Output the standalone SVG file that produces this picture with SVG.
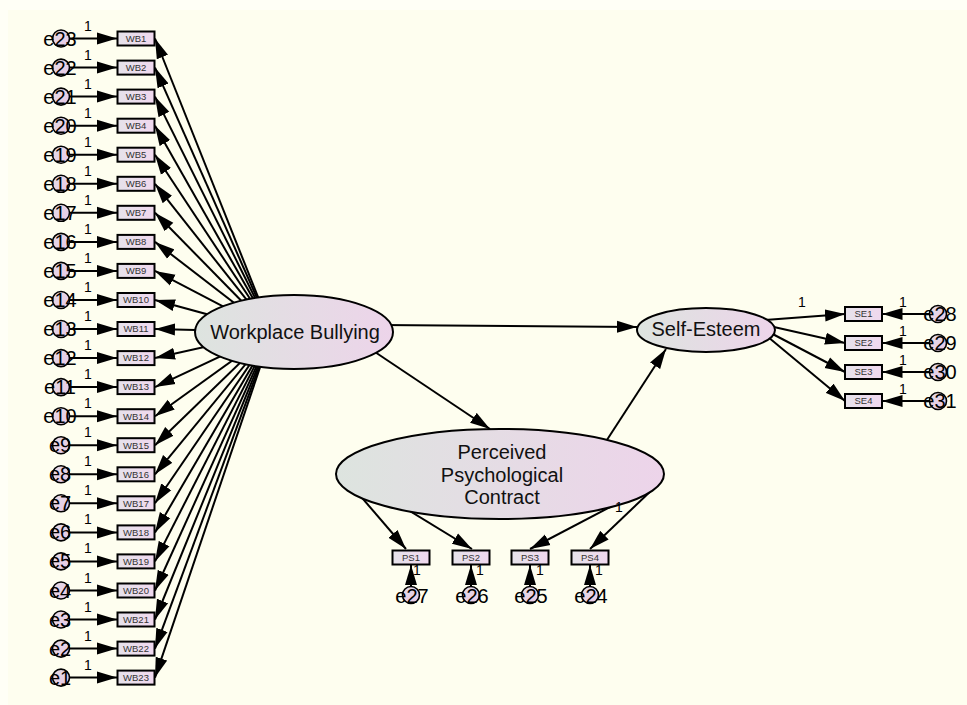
<svg xmlns="http://www.w3.org/2000/svg" width="967" height="705" viewBox="0 0 967 705">
<style>
.ln{stroke:#000;stroke-width:2;fill:none}
.bx{fill:url(#gb);stroke:#000;stroke-width:2}
.ci{fill:url(#gc);stroke:#000;stroke-width:1.6}
.el{fill:url(#ge);stroke:#000;stroke-width:2}
.bt{font-family:"Liberation Sans",Arial,sans-serif;font-size:9.5px;fill:#333;text-anchor:middle}
.et{font-family:"Liberation Sans",Arial,sans-serif;font-size:20px;fill:#000;text-anchor:middle}
.lt{font-family:"Liberation Sans",Arial,sans-serif;font-size:20px;fill:#111;text-anchor:middle}
.one{font-family:"Liberation Sans",Arial,sans-serif;font-size:14px;fill:#000;text-anchor:middle}
</style>
<defs>
<linearGradient id="ge" x1="0" y1="0" x2="1" y2="0"><stop offset="0" stop-color="#DDE4DF"/><stop offset="1" stop-color="#EDD4EA"/></linearGradient>
<linearGradient id="gb" x1="0" y1="0" x2="1" y2="0"><stop offset="0" stop-color="#E6E2EA"/><stop offset="1" stop-color="#F0D8EE"/></linearGradient>
<linearGradient id="gc" x1="0" y1="0" x2="1" y2="1"><stop offset="0" stop-color="#E4DCE6"/><stop offset="1" stop-color="#E8C8E6"/></linearGradient>
<marker id="ah" markerUnits="userSpaceOnUse" markerWidth="20" markerHeight="13" refX="20" refY="6.5" orient="auto"><path d="M0,0.5 L20,6.5 L0,12.5 z" fill="#000"/></marker>
</defs>
<rect x="0" y="0" width="967" height="705" fill="#FFFFF6"/>
<rect x="8" y="10" width="959" height="695" fill="#FEFEEF"/>
<g id="connectors" class="ln">
<line x1="272" y1="332" x2="155" y2="38.5" marker-end="url(#ah)"/>
<line x1="272" y1="332" x2="155" y2="67.6" marker-end="url(#ah)"/>
<line x1="272" y1="332" x2="155" y2="96.6" marker-end="url(#ah)"/>
<line x1="272" y1="332" x2="155" y2="125.7" marker-end="url(#ah)"/>
<line x1="272" y1="332" x2="155" y2="154.7" marker-end="url(#ah)"/>
<line x1="272" y1="332" x2="155" y2="183.8" marker-end="url(#ah)"/>
<line x1="272" y1="332" x2="155" y2="212.8" marker-end="url(#ah)"/>
<line x1="272" y1="332" x2="155" y2="241.9" marker-end="url(#ah)"/>
<line x1="272" y1="332" x2="155" y2="270.9" marker-end="url(#ah)"/>
<line x1="272" y1="332" x2="155" y2="300" marker-end="url(#ah)"/>
<line x1="272" y1="332" x2="155" y2="329" marker-end="url(#ah)"/>
<line x1="272" y1="332" x2="155" y2="358.1" marker-end="url(#ah)"/>
<line x1="272" y1="332" x2="155" y2="387.1" marker-end="url(#ah)"/>
<line x1="272" y1="332" x2="155" y2="416.2" marker-end="url(#ah)"/>
<line x1="272" y1="332" x2="155" y2="445.2" marker-end="url(#ah)"/>
<line x1="272" y1="332" x2="155" y2="474.3" marker-end="url(#ah)"/>
<line x1="272" y1="332" x2="155" y2="503.3" marker-end="url(#ah)"/>
<line x1="272" y1="332" x2="155" y2="532.4" marker-end="url(#ah)"/>
<line x1="272" y1="332" x2="155" y2="561.4" marker-end="url(#ah)"/>
<line x1="272" y1="332" x2="155" y2="590.5" marker-end="url(#ah)"/>
<line x1="272" y1="332" x2="155" y2="619.5" marker-end="url(#ah)"/>
<line x1="272" y1="332" x2="155" y2="648.6" marker-end="url(#ah)"/>
<line x1="272" y1="332" x2="155" y2="677.6" marker-end="url(#ah)"/>
<line x1="69" y1="38.5" x2="117" y2="38.5" marker-end="url(#ah)"/>
<line x1="69" y1="67.6" x2="117" y2="67.6" marker-end="url(#ah)"/>
<line x1="69" y1="96.6" x2="117" y2="96.6" marker-end="url(#ah)"/>
<line x1="69" y1="125.7" x2="117" y2="125.7" marker-end="url(#ah)"/>
<line x1="69" y1="154.7" x2="117" y2="154.7" marker-end="url(#ah)"/>
<line x1="69" y1="183.8" x2="117" y2="183.8" marker-end="url(#ah)"/>
<line x1="69" y1="212.8" x2="117" y2="212.8" marker-end="url(#ah)"/>
<line x1="69" y1="241.9" x2="117" y2="241.9" marker-end="url(#ah)"/>
<line x1="69" y1="270.9" x2="117" y2="270.9" marker-end="url(#ah)"/>
<line x1="69" y1="300" x2="117" y2="300" marker-end="url(#ah)"/>
<line x1="69" y1="329" x2="117" y2="329" marker-end="url(#ah)"/>
<line x1="69" y1="358.1" x2="117" y2="358.1" marker-end="url(#ah)"/>
<line x1="69" y1="387.1" x2="117" y2="387.1" marker-end="url(#ah)"/>
<line x1="69" y1="416.2" x2="117" y2="416.2" marker-end="url(#ah)"/>
<line x1="69" y1="445.2" x2="117" y2="445.2" marker-end="url(#ah)"/>
<line x1="69" y1="474.3" x2="117" y2="474.3" marker-end="url(#ah)"/>
<line x1="69" y1="503.3" x2="117" y2="503.3" marker-end="url(#ah)"/>
<line x1="69" y1="532.4" x2="117" y2="532.4" marker-end="url(#ah)"/>
<line x1="69" y1="561.4" x2="117" y2="561.4" marker-end="url(#ah)"/>
<line x1="69" y1="590.5" x2="117" y2="590.5" marker-end="url(#ah)"/>
<line x1="69" y1="619.5" x2="117" y2="619.5" marker-end="url(#ah)"/>
<line x1="69" y1="648.6" x2="117" y2="648.6" marker-end="url(#ah)"/>
<line x1="69" y1="677.6" x2="117" y2="677.6" marker-end="url(#ah)"/>
<line x1="380" y1="325" x2="637" y2="327" marker-end="url(#ah)"/>
<line x1="360" y1="342" x2="490" y2="429" marker-end="url(#ah)"/>
<line x1="603" y1="446" x2="666" y2="349" marker-end="url(#ah)"/>
<line x1="765" y1="320" x2="845" y2="314" marker-end="url(#ah)"/>
<line x1="765" y1="325" x2="845" y2="343" marker-end="url(#ah)"/>
<line x1="765" y1="330" x2="845" y2="372" marker-end="url(#ah)"/>
<line x1="762" y1="332" x2="845" y2="401" marker-end="url(#ah)"/>
<line x1="930" y1="314" x2="882.5" y2="314" marker-end="url(#ah)"/>
<line x1="930" y1="343" x2="882.5" y2="343" marker-end="url(#ah)"/>
<line x1="930" y1="372" x2="882.5" y2="372" marker-end="url(#ah)"/>
<line x1="930" y1="401" x2="882.5" y2="401" marker-end="url(#ah)"/>
<line x1="345" y1="478" x2="406" y2="549" marker-end="url(#ah)"/>
<line x1="400" y1="505" x2="472" y2="549" marker-end="url(#ah)"/>
<line x1="612" y1="506" x2="530" y2="549" marker-end="url(#ah)"/>
<line x1="655" y1="487" x2="590" y2="549" marker-end="url(#ah)"/>
<line x1="411" y1="590" x2="411" y2="565" marker-end="url(#ah)"/>
<line x1="471" y1="590" x2="471" y2="565" marker-end="url(#ah)"/>
<line x1="530" y1="590" x2="530" y2="565" marker-end="url(#ah)"/>
<line x1="590" y1="590" x2="590" y2="565" marker-end="url(#ah)"/>
</g>
<g id="WB"><ellipse class="el" cx="294" cy="332" rx="99" ry="37"/><text class="lt" x="295" y="339">Workplace Bullying</text></g>
<g id="SE"><ellipse class="el" cx="706" cy="330" rx="69" ry="22"/><text class="lt" x="706" y="336">Self-Esteem</text></g>
<g id="PPC"><ellipse class="el" cx="500" cy="474" rx="164" ry="45"/><text class="lt" x="502" y="459">Perceived</text><text class="lt" x="502" y="482">Psychological</text><text class="lt" x="502" y="504">Contract</text></g>
<g id="WB1"><rect class="bx" x="117.5" y="31.5" width="37" height="14"/><text class="bt" x="136" y="41.8">WB1</text></g>
<g id="WB2"><rect class="bx" x="117.5" y="60.6" width="37" height="14"/><text class="bt" x="136" y="70.9">WB2</text></g>
<g id="WB3"><rect class="bx" x="117.5" y="89.6" width="37" height="14"/><text class="bt" x="136" y="99.9">WB3</text></g>
<g id="WB4"><rect class="bx" x="117.5" y="118.7" width="37" height="14"/><text class="bt" x="136" y="129">WB4</text></g>
<g id="WB5"><rect class="bx" x="117.5" y="147.7" width="37" height="14"/><text class="bt" x="136" y="158">WB5</text></g>
<g id="WB6"><rect class="bx" x="117.5" y="176.8" width="37" height="14"/><text class="bt" x="136" y="187.1">WB6</text></g>
<g id="WB7"><rect class="bx" x="117.5" y="205.8" width="37" height="14"/><text class="bt" x="136" y="216.1">WB7</text></g>
<g id="WB8"><rect class="bx" x="117.5" y="234.9" width="37" height="14"/><text class="bt" x="136" y="245.2">WB8</text></g>
<g id="WB9"><rect class="bx" x="117.5" y="263.9" width="37" height="14"/><text class="bt" x="136" y="274.2">WB9</text></g>
<g id="WB10"><rect class="bx" x="117.5" y="293" width="37" height="14"/><text class="bt" x="136" y="303.3">WB10</text></g>
<g id="WB11"><rect class="bx" x="117.5" y="322" width="37" height="14"/><text class="bt" x="136" y="332.3">WB11</text></g>
<g id="WB12"><rect class="bx" x="117.5" y="351.1" width="37" height="14"/><text class="bt" x="136" y="361.4">WB12</text></g>
<g id="WB13"><rect class="bx" x="117.5" y="380.1" width="37" height="14"/><text class="bt" x="136" y="390.4">WB13</text></g>
<g id="WB14"><rect class="bx" x="117.5" y="409.2" width="37" height="14"/><text class="bt" x="136" y="419.5">WB14</text></g>
<g id="WB15"><rect class="bx" x="117.5" y="438.2" width="37" height="14"/><text class="bt" x="136" y="448.5">WB15</text></g>
<g id="WB16"><rect class="bx" x="117.5" y="467.3" width="37" height="14"/><text class="bt" x="136" y="477.6">WB16</text></g>
<g id="WB17"><rect class="bx" x="117.5" y="496.3" width="37" height="14"/><text class="bt" x="136" y="506.6">WB17</text></g>
<g id="WB18"><rect class="bx" x="117.5" y="525.4" width="37" height="14"/><text class="bt" x="136" y="535.7">WB18</text></g>
<g id="WB19"><rect class="bx" x="117.5" y="554.4" width="37" height="14"/><text class="bt" x="136" y="564.7">WB19</text></g>
<g id="WB20"><rect class="bx" x="117.5" y="583.5" width="37" height="14"/><text class="bt" x="136" y="593.8">WB20</text></g>
<g id="WB21"><rect class="bx" x="117.5" y="612.5" width="37" height="14"/><text class="bt" x="136" y="622.8">WB21</text></g>
<g id="WB22"><rect class="bx" x="117.5" y="641.6" width="37" height="14"/><text class="bt" x="136" y="651.9">WB22</text></g>
<g id="WB23"><rect class="bx" x="117.5" y="670.6" width="37" height="14"/><text class="bt" x="136" y="680.9">WB23</text></g>
<g id="SE1"><rect class="bx" x="845" y="307" width="37" height="14"/><text class="bt" x="863.5" y="317.3">SE1</text></g>
<g id="SE2"><rect class="bx" x="845" y="336" width="37" height="14"/><text class="bt" x="863.5" y="346.3">SE2</text></g>
<g id="SE3"><rect class="bx" x="845" y="365" width="37" height="14"/><text class="bt" x="863.5" y="375.3">SE3</text></g>
<g id="SE4"><rect class="bx" x="845" y="394" width="37" height="14"/><text class="bt" x="863.5" y="404.3">SE4</text></g>
<g id="PS1"><rect class="bx" x="392.5" y="550.5" width="37" height="14"/><text class="bt" x="411" y="560.8">PS1</text></g>
<g id="PS2"><rect class="bx" x="452.5" y="550.5" width="37" height="14"/><text class="bt" x="471" y="560.8">PS2</text></g>
<g id="PS3"><rect class="bx" x="511.5" y="550.5" width="37" height="14"/><text class="bt" x="530" y="560.8">PS3</text></g>
<g id="PS4"><rect class="bx" x="571.5" y="550.5" width="37" height="14"/><text class="bt" x="590" y="560.8">PS4</text></g>
<g id="e23"><circle class="ci" cx="61" cy="38.5" r="8.5"/><text class="et" x="60" y="45.5">e23</text></g>
<g id="e22"><circle class="ci" cx="61" cy="67.6" r="8.5"/><text class="et" x="60" y="74.6">e22</text></g>
<g id="e21"><circle class="ci" cx="61" cy="96.6" r="8.5"/><text class="et" x="60" y="103.6">e21</text></g>
<g id="e20"><circle class="ci" cx="61" cy="125.7" r="8.5"/><text class="et" x="60" y="132.7">e20</text></g>
<g id="e19"><circle class="ci" cx="61" cy="154.7" r="8.5"/><text class="et" x="60" y="161.7">e19</text></g>
<g id="e18"><circle class="ci" cx="61" cy="183.8" r="8.5"/><text class="et" x="60" y="190.8">e18</text></g>
<g id="e17"><circle class="ci" cx="61" cy="212.8" r="8.5"/><text class="et" x="60" y="219.8">e17</text></g>
<g id="e16"><circle class="ci" cx="61" cy="241.9" r="8.5"/><text class="et" x="60" y="248.9">e16</text></g>
<g id="e15"><circle class="ci" cx="61" cy="270.9" r="8.5"/><text class="et" x="60" y="277.9">e15</text></g>
<g id="e14"><circle class="ci" cx="61" cy="300" r="8.5"/><text class="et" x="60" y="307">e14</text></g>
<g id="e13"><circle class="ci" cx="61" cy="329" r="8.5"/><text class="et" x="60" y="336">e13</text></g>
<g id="e12"><circle class="ci" cx="61" cy="358.1" r="8.5"/><text class="et" x="60" y="365.1">e12</text></g>
<g id="e11"><circle class="ci" cx="61" cy="387.1" r="8.5"/><text class="et" x="60" y="394.1">e11</text></g>
<g id="e10"><circle class="ci" cx="61" cy="416.2" r="8.5"/><text class="et" x="60" y="423.2">e10</text></g>
<g id="e9"><circle class="ci" cx="61" cy="445.2" r="8.5"/><text class="et" x="60" y="452.2">e9</text></g>
<g id="e8"><circle class="ci" cx="61" cy="474.3" r="8.5"/><text class="et" x="60" y="481.3">e8</text></g>
<g id="e7"><circle class="ci" cx="61" cy="503.3" r="8.5"/><text class="et" x="60" y="510.3">e7</text></g>
<g id="e6"><circle class="ci" cx="61" cy="532.4" r="8.5"/><text class="et" x="60" y="539.4">e6</text></g>
<g id="e5"><circle class="ci" cx="61" cy="561.4" r="8.5"/><text class="et" x="60" y="568.4">e5</text></g>
<g id="e4"><circle class="ci" cx="61" cy="590.5" r="8.5"/><text class="et" x="60" y="597.5">e4</text></g>
<g id="e3"><circle class="ci" cx="61" cy="619.5" r="8.5"/><text class="et" x="60" y="626.5">e3</text></g>
<g id="e2"><circle class="ci" cx="61" cy="648.6" r="8.5"/><text class="et" x="60" y="655.6">e2</text></g>
<g id="e1"><circle class="ci" cx="61" cy="677.6" r="8.5"/><text class="et" x="60" y="684.6">e1</text></g>
<g id="e28"><circle class="ci" cx="938" cy="314" r="8.5"/><text class="et" x="940" y="321">e28</text></g>
<g id="e29"><circle class="ci" cx="938" cy="343" r="8.5"/><text class="et" x="940" y="350">e29</text></g>
<g id="e30"><circle class="ci" cx="938" cy="372" r="8.5"/><text class="et" x="940" y="379">e30</text></g>
<g id="e31"><circle class="ci" cx="938" cy="401" r="8.5"/><text class="et" x="940" y="408">e31</text></g>
<g id="e27"><circle class="ci" cx="411" cy="595" r="8.5"/><text class="et" x="412" y="603">e27</text></g>
<g id="e26"><circle class="ci" cx="471" cy="595" r="8.5"/><text class="et" x="472" y="603">e26</text></g>
<g id="e25"><circle class="ci" cx="530" cy="595" r="8.5"/><text class="et" x="531" y="603">e25</text></g>
<g id="e24"><circle class="ci" cx="590" cy="595" r="8.5"/><text class="et" x="591" y="603">e24</text></g>
<g id="labels" class="one">
<text x="88" y="30.5">1</text><text x="88" y="59.6">1</text><text x="88" y="88.6">1</text><text x="88" y="117.7">1</text><text x="88" y="146.7">1</text><text x="88" y="175.8">1</text><text x="88" y="204.8">1</text><text x="88" y="233.9">1</text><text x="88" y="262.9">1</text><text x="88" y="292">1</text><text x="88" y="321">1</text><text x="88" y="350.1">1</text><text x="88" y="379.1">1</text><text x="88" y="408.2">1</text><text x="88" y="437.2">1</text><text x="88" y="466.3">1</text><text x="88" y="495.3">1</text><text x="88" y="524.4">1</text><text x="88" y="553.4">1</text><text x="88" y="582.5">1</text><text x="88" y="611.5">1</text><text x="88" y="640.6">1</text><text x="88" y="669.6">1</text>
<text x="802" y="307">1</text>
<text x="903" y="307">1</text><text x="903" y="336">1</text><text x="903" y="365">1</text><text x="903" y="394">1</text>
<text x="619" y="512">1</text>
<text x="417" y="575">1</text><text x="480" y="575">1</text><text x="540" y="575">1</text><text x="599" y="575">1</text>
</g>
</svg>
